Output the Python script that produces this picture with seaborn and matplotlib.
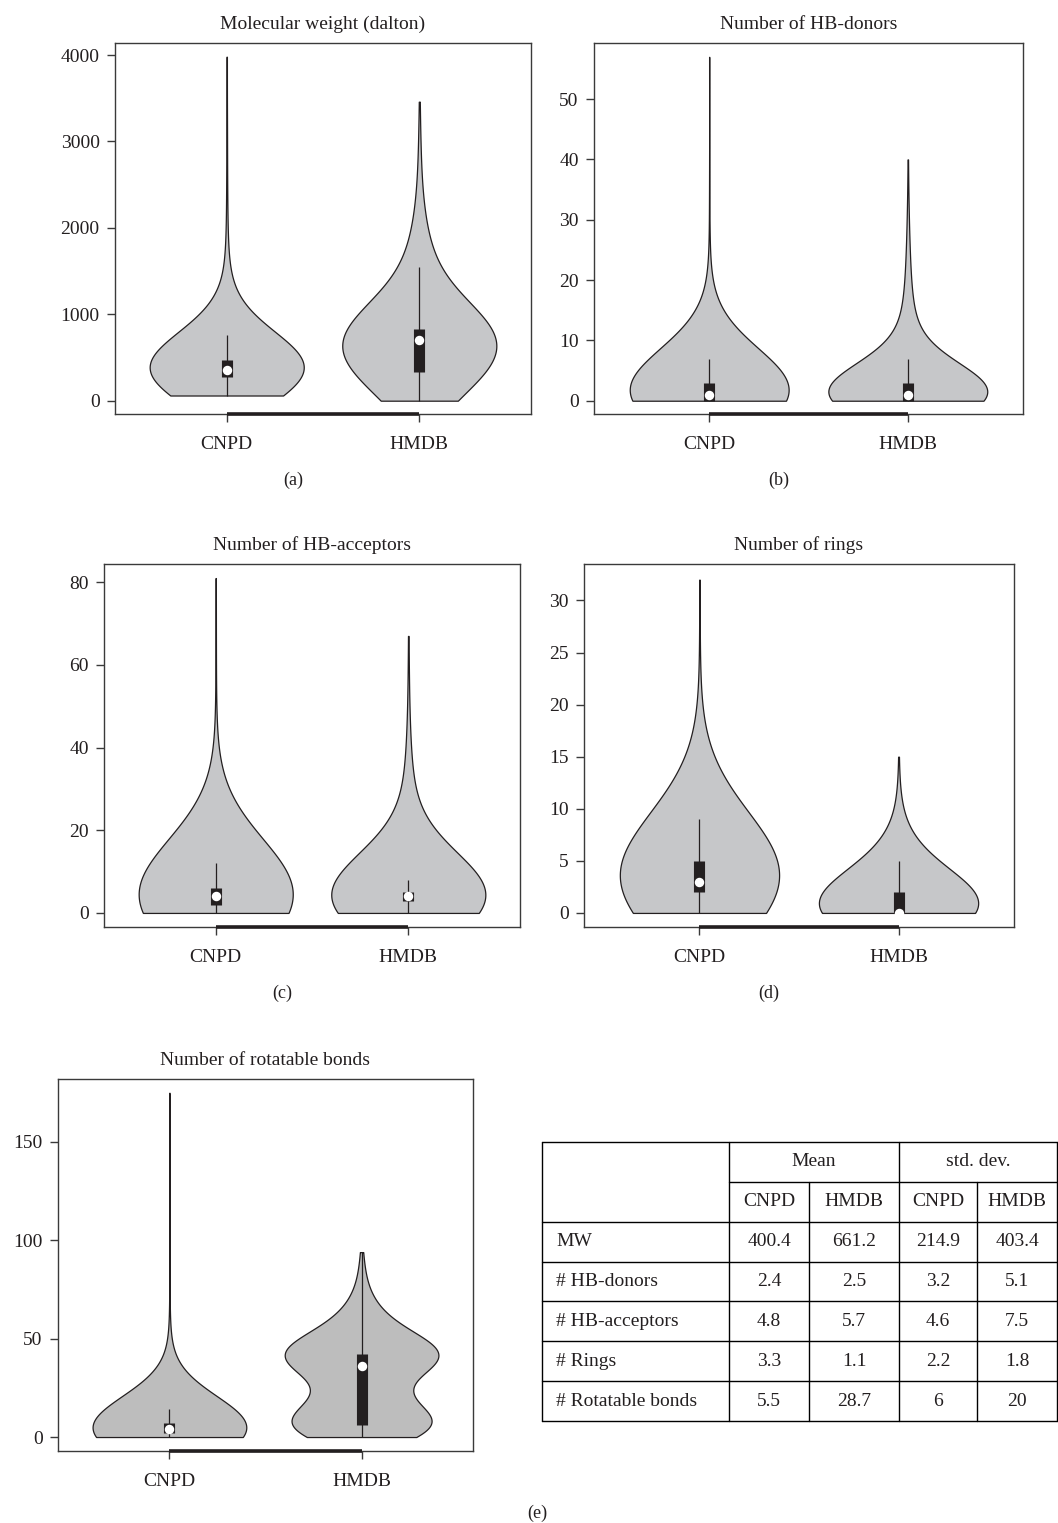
import numpy as np
import pandas as pd
import matplotlib
matplotlib.use("Agg")
import matplotlib.pyplot as plt
import seaborn as sns

sns.set_style("ticks")
plt.rcParams['font.family'] = ['Liberation Serif', 'DejaVu Serif']

GROUPS = ["CNPD", "HMDB"]

# ---------------- data (value, count) read/ ----------------
# (a) Molecular weight
MW_CNPD_VALUES = [60, 150, 220, 270, 310, 350, 410, 470, 560, 680, 760, 900, 1100, 1400, 1800, 2400, 3100, 3980]
MW_CNPD_COUNTS = [10, 60, 120, 70, 120, 130, 120, 130, 90, 60, 30, 20, 15, 10, 6, 4, 3, 2]
MW_HMDB_VALUES = [0, 100, 200, 330, 450, 550, 620, 700, 760, 830, 950, 1100, 1300, 1550, 1800, 2100, 2500, 2900, 3200, 3460]
MW_HMDB_COUNTS = [30, 50, 80, 95, 70, 70, 55, 60, 120, 125, 60, 50, 45, 35, 25, 15, 8, 4, 2, 1]
# (b) HB-donors
DON_CNPD_VALUES = [0, 1, 2, 3, 4, 5, 6, 7, 8, 9, 10, 12, 14, 16, 19, 23, 28, 35, 57]
DON_CNPD_COUNTS = [299, 250, 150, 100, 60, 45, 30, 20, 12, 9, 7, 6, 4, 3, 2, 1, 1, 1, 1]
DON_HMDB_VALUES = [0, 1, 2, 3, 4, 5, 6, 7, 9, 11, 13, 15, 18, 21, 24, 27, 30, 33, 36, 40]
DON_HMDB_COUNTS = [320, 220, 140, 90, 50, 35, 25, 20, 20, 18, 15, 12, 10, 8, 6, 4, 3, 2, 1, 1]
# (c) HB-acceptors
ACC_CNPD_VALUES = [0, 1, 2, 3, 4, 5, 6, 7, 8, 9, 10, 11, 12, 14, 17, 20, 25, 30, 38, 45, 55, 68, 81]
ACC_CNPD_COUNTS = [60, 100, 130, 140, 120, 110, 110, 60, 45, 30, 25, 15, 12, 12, 10, 7, 5, 3, 2, 1, 1, 1, 1]
ACC_HMDB_VALUES = [0, 1, 2, 3, 4, 5, 6, 7, 8, 10, 12, 15, 18, 22, 26, 30, 35, 40, 46, 52, 58, 62, 67]
ACC_HMDB_COUNTS = [30, 50, 100, 180, 200, 200, 60, 30, 20, 20, 18, 18, 16, 15, 12, 10, 8, 5, 3, 2, 1, 1, 1]
# (d) Rings
RING_CNPD_VALUES = [0, 1, 2, 3, 4, 5, 6, 7, 8, 9, 10, 11, 12, 14, 16, 19, 23, 27, 32]
RING_CNPD_COUNTS = [60, 110, 150, 200, 140, 120, 80, 50, 35, 20, 12, 8, 5, 4, 2, 1, 1, 1, 1]
RING_HMDB_VALUES = [0, 1, 2, 3, 4, 5, 6, 7, 8, 9, 10, 12, 15]
RING_HMDB_COUNTS = [520, 130, 130, 80, 60, 35, 18, 10, 7, 4, 3, 2, 1]
# (e) Rotatable bonds
ROT_CNPD_VALUES = [0, 1, 2, 3, 4, 5, 6, 7, 8, 9, 10, 11, 12, 13, 14, 16, 19, 23, 28, 34, 42, 55, 75, 110, 175]
ROT_CNPD_COUNTS = [80, 100, 120, 110, 110, 100, 80, 80, 50, 35, 30, 20, 15, 12, 10, 10, 10, 8, 7, 5, 3, 2, 1, 1, 1]
ROT_HMDB_VALUES = [0, 3, 6, 10, 15, 20, 25, 30, 36, 39, 42, 46, 50, 55, 60, 66, 72, 80, 88, 94]
ROT_HMDB_COUNTS = [40, 80, 135, 70, 50, 45, 40, 30, 60, 100, 105, 75, 55, 40, 30, 20, 12, 7, 4, 2]

# table
TABLE_ROWS = ["MW", "# HB-donors", "# HB-acceptors", "# Rings", "# Rotatable bonds"]
MEAN_CNPD = ["400.4", "2.4", "4.8", "3.3", "5.5"]
MEAN_HMDB = ["661.2", "2.5", "5.7", "1.1", "28.7"]
STD_CNPD = ["214.9", "3.2", "4.6", "2.2", "6"]
STD_HMDB = ["403.4", "5.1", "7.5", "1.8", "20"]

TITLES = ["Molecular weight (dalton)", "Number of HB-donors", "Number of HB-acceptors",
          "Number of rings", "Number of rotatable bonds"]
YTICKS = [[0, 1000, 2000, 3000, 4000], [0, 10, 20, 30, 40, 50], [0, 20, 40, 60, 80],
          [0, 5, 10, 15, 20, 25, 30], [0, 50, 100, 150]]
YLIMS = [(-154, 4139), (-2.2, 59.3), (-3.4, 84.4), (-1.35, 33.5), (-7.1, 182)]
BANDWIDTHS = [(380, 400), (6.6, 4.5), (13, 10), (5.6, 3.0), (15.5, 9.5)]
PANEL_LABELS = ["(a)", "(b)", "(c)", "(d)", "(e)"]

W, H = 1058, 1523
fig = plt.figure(figsize=(W / 100, H / 100), dpi=100)

def add_axes_px(x0, y0, x1, y1):
    return fig.add_axes([x0 / W, 1 - y1 / H, (x1 - x0) / W, (y1 - y0) / H])

AX_BOXES = [(115, 43, 531, 414), (594, 43, 1023, 414), (104, 564, 520, 927),
            (584, 564, 1014, 927), (58, 1079, 473, 1451)]
FILLS = ["#c6c7c9", "#c6c7c9", "#c6c7c9", "#c6c7c9", "#bdbdbd"]
INK = "#231f20"

datasets = [
    (np.repeat(MW_CNPD_VALUES, MW_CNPD_COUNTS), np.repeat(MW_HMDB_VALUES, MW_HMDB_COUNTS)),
    (np.repeat(DON_CNPD_VALUES, DON_CNPD_COUNTS), np.repeat(DON_HMDB_VALUES, DON_HMDB_COUNTS)),
    (np.repeat(ACC_CNPD_VALUES, ACC_CNPD_COUNTS), np.repeat(ACC_HMDB_VALUES, ACC_HMDB_COUNTS)),
    (np.repeat(RING_CNPD_VALUES, RING_CNPD_COUNTS), np.repeat(RING_HMDB_VALUES, RING_HMDB_COUNTS)),
    (np.repeat(ROT_CNPD_VALUES, ROT_CNPD_COUNTS), np.repeat(ROT_HMDB_VALUES, ROT_HMDB_COUNTS)),
]

FS = 14
for i, (box, (d_c, d_h)) in enumerate(zip(AX_BOXES, datasets)):
    ax = add_axes_px(*box)
    for name, d, bw in zip(GROUPS, (d_c, d_h), BANDWIDTHS[i]):
        d = np.asarray(d, float)
        df = pd.DataFrame({"db": name, "v": d})
        sns.violinplot(data=df, x="db", y="v", order=GROUPS, ax=ax, cut=0, width=0.8,
                       density_norm="width", bw_method=bw / np.std(d, ddof=1), gridsize=400,
                       inner="box", inner_kws=dict(box_width=8, whis_width=0.9, marker="o"),
                       color=FILLS[i], saturation=1, linewidth=0.9, linecolor=INK)
    for ln in ax.lines:
        ln.set_solid_capstyle("butt")
        if ln.get_marker() == "o":
            ln.set_markerfacecolor("white")
            ln.set_markeredgecolor("white")
            ln.set_markersize(5.2)
            ln.set_zorder(6)
    ax.set_xlim(-0.58, 1.58)
    ax.set_ylim(*YLIMS[i])
    ax.set_yticks(YTICKS[i])
    ax.set_xlabel("")
    ax.set_ylabel("")
    ax.set_xticks([0, 1])
    ax.set_xticklabels(GROUPS)
    for s in ax.spines.values():
        s.set_visible(True)
        s.set_color("#3a3a3a")
        s.set_linewidth(1.0)
    ax.tick_params(axis="both", direction="out", length=6, width=1.0, color="#3a3a3a",
                   labelsize=FS, labelcolor=INK, pad=5)
    ax.tick_params(axis="x", pad=10)
    ax.plot([0, 1], [0, 0], transform=ax.get_xaxis_transform(), color=INK, lw=2.6,
            solid_capstyle="butt", clip_on=False, zorder=5)
    ax.set_title(TITLES[i], fontsize=FS, color=INK, pad=10)
    x0, y0, x1, y1 = box
    if i < 4:
        lx = (x0 + x1) / 2 - 30
        ly = y1 + 66
    else:
        lx = 537
        ly = y1 + 62
    fig.text(lx / W, 1 - ly / H, PANEL_LABELS[i], ha="center", va="center", fontsize=FS - 1, color=INK)

# ---------------- table ----------------
tx0, ty0, tx1, ty1 = 542, 1142, 1057, 1421
tax = add_axes_px(tx0, ty0, tx1, ty1)
tw, th = tx1 - tx0, ty1 - ty0
tax.set_xlim(0, tw)
tax.set_ylim(th, 0)
tax.axis("off")
cols = [0, 187, 267, 357, 435, tw]
nrows = 7
rh = th / nrows
rows_y = [k * rh for k in range(nrows + 1)]
lk = dict(color="black", lw=1.0, clip_on=False)
for k, yv in enumerate(rows_y):
    if k == 1:
        tax.plot([cols[1], cols[-1]], [yv, yv], **lk)
    else:
        tax.plot([cols[0], cols[-1]], [yv, yv], **lk)
for c in cols:
    if c in (cols[2], cols[4]):
        tax.plot([c, c], [rows_y[1], rows_y[-1]], **lk)
    else:
        tax.plot([c, c], [rows_y[0], rows_y[-1]], **lk)
tk = dict(fontsize=FS, color=INK, va="center")
tax.text((cols[1] + cols[3]) / 2, rh * 0.5, "Mean", ha="center", **tk)
tax.text((cols[3] + cols[5]) / 2, rh * 0.5, "std. dev.", ha="center", **tk)
for j, lab in enumerate(GROUPS + GROUPS):
    tax.text((cols[j + 1] + cols[j + 2]) / 2, rh * 1.5, lab, ha="center", **tk)
for r, lab in enumerate(TABLE_ROWS):
    yc = rh * (r + 2.5)
    tax.text(14, yc, lab, ha="left", **tk)
    for j, vals in enumerate([MEAN_CNPD, MEAN_HMDB, STD_CNPD, STD_HMDB]):
        tax.text((cols[j + 1] + cols[j + 2]) / 2, yc, vals[r], ha="center", **tk)

fig.savefig("out.png", dpi=100, facecolor="white")
